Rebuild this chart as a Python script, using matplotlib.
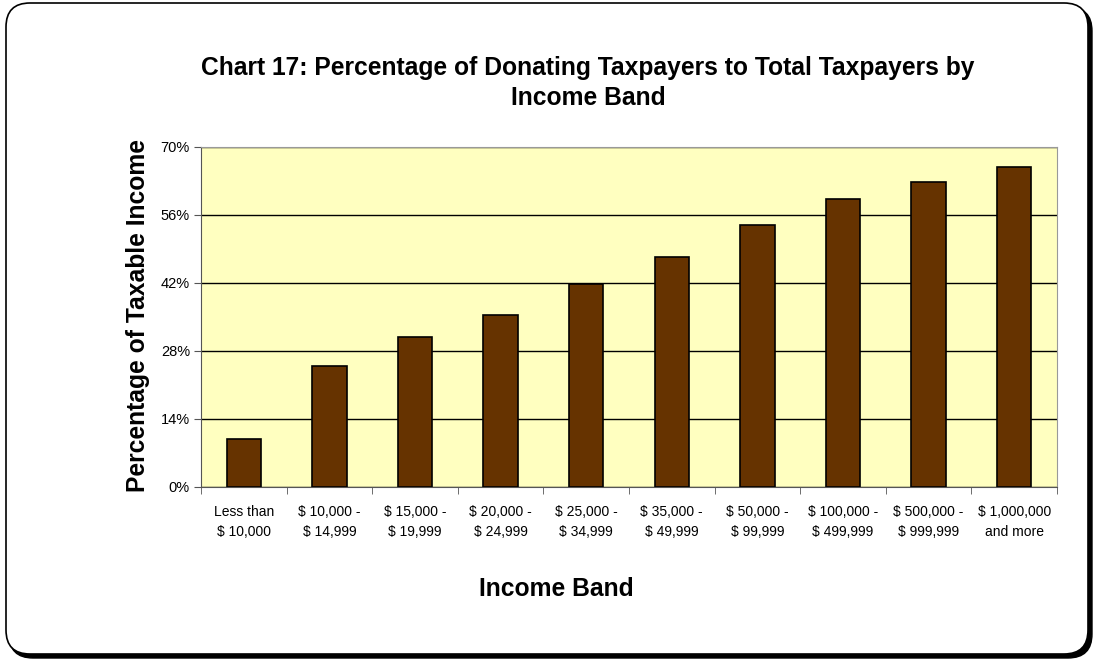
import matplotlib
matplotlib.use("Agg")
import matplotlib.pyplot as plt
from matplotlib.patches import FancyBboxPatch
from matplotlib.ticker import FuncFormatter, FixedLocator

categories = ["Less than\n$ 10,000", "$ 10,000 -\n$ 14,999", "$ 15,000 -\n$ 19,999",
              "$ 20,000 -\n$ 24,999", "$ 25,000 -\n$ 34,999", "$ 35,000 -\n$ 49,999",
              "$ 50,000 -\n$ 99,999", "$ 100,000 -\n$ 499,999", "$ 500,000 -\n$ 999,999",
              "$ 1,000,000\nand more"]
values = [9.8, 24.8, 30.8, 35.4, 41.7, 47.3, 53.9, 59.2, 62.7, 65.8]
yticks = [0, 14, 28, 42, 56, 70]

plt.rcParams['font.family'] = ['Liberation Sans', 'DejaVu Sans']

W, H = 1094, 662
fig = plt.figure(figsize=(W / 100, H / 100), dpi=100)

# background frame (pixel coordinates)
bg = fig.add_axes([0, 0, 1, 1], zorder=-5)
bg.set_xlim(0, W)
bg.set_ylim(H, 0)
bg.axis('off')
bg.add_patch(FancyBboxPatch((9, 7), 1083, 651, boxstyle="round,pad=0,rounding_size=24",
                            facecolor='black', edgecolor='black', linewidth=1))
bg.add_patch(FancyBboxPatch((6, 3), 1082, 651, boxstyle="round,pad=0,rounding_size=24",
                            facecolor='white', edgecolor='black', linewidth=1.2))

left, right = 201 / W, 1057 / W
bottom, top = 1 - 487 / H, 1 - 146.7 / H
ax = fig.add_axes([left, bottom, right - left, top - bottom], zorder=2)
ax.set_facecolor('#FFFFC0')

x = list(range(len(categories)))
ax.bar(x, values, width=0.40, color='#663300', edgecolor='black', linewidth=1.2, zorder=3)

ax.set_xlim(-0.5, len(categories) - 0.5)
ax.set_ylim(0, 70)
ax.set_yticks(yticks)
ax.yaxis.set_major_formatter(FuncFormatter(lambda v, p: f"{int(v)}%"))
ax.grid(axis='y', color='black', linewidth=1.0, zorder=1)
ax.set_axisbelow(True)

ax.set_xticks(x)
ax.set_xticklabels(categories, fontsize=10, linespacing=1.58)
ax.tick_params(axis='x', length=0, pad=13)
ax.xaxis.set_minor_locator(FixedLocator([i - 0.5 for i in range(len(categories) + 1)]))
ax.tick_params(axis='x', which='minor', length=5, direction='out', color='#555555')
ax.tick_params(axis='y', length=5, direction='out', labelsize=10.5, color='#555555', pad=3)

for s in ['left', 'bottom']:
    ax.spines[s].set_color('#555555')
for s in ['top', 'right']:
    ax.spines[s].set_color('#999999')

fig.text(588 / W, 1 - 75 / H,
         "Chart 17: Percentage of Donating Taxpayers to Total Taxpayers by",
         ha='center', va='baseline', fontsize=17.7, fontweight='bold')
fig.text(588 / W, 1 - 105 / H, "Income Band",
         ha='center', va='baseline', fontsize=17.7, fontweight='bold')
fig.text(138 / W, 1 - 316 / H, "Percentage of Taxable Income", rotation=90,
         ha='center', va='center', fontsize=17.7, fontweight='bold')
fig.text(556 / W, 1 - 589 / H, "Income Band", ha='center', va='center',
         fontsize=17.7, fontweight='bold')

fig.savefig("out.png", dpi=100)
